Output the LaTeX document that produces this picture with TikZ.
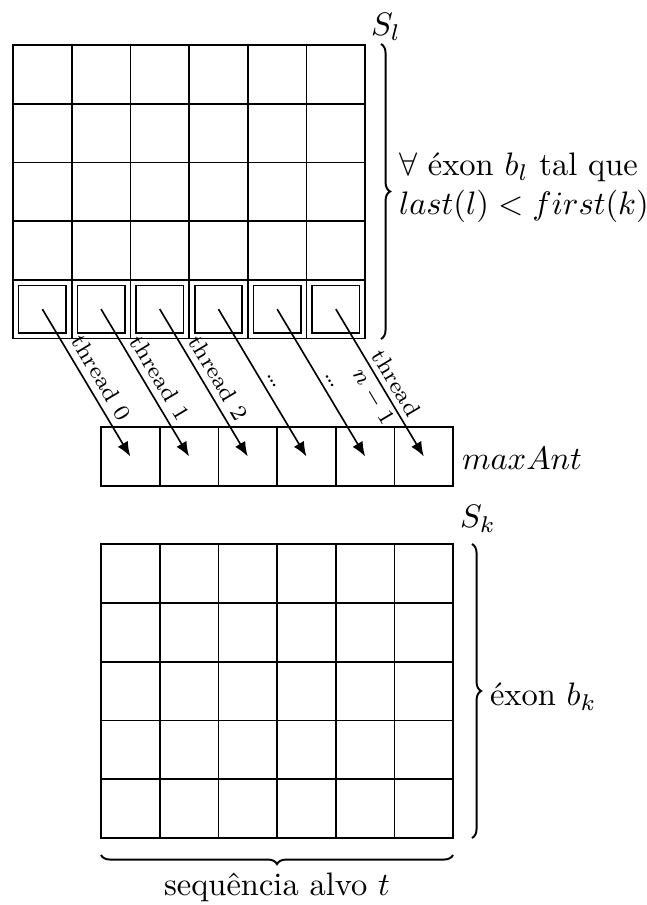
\documentclass[tikz,border=0pt]{standalone}
\usetikzlibrary{arrows.meta,decorations.pathreplacing}
\begin{document}
\begin{tikzpicture}[x=0.3077pt,y=-0.3077pt,
  cell/.style={draw,line width=0.5pt,minimum size=18.06pt,inner sep=0pt,outer sep=0pt},
  innerbox/.style={draw,line width=0.5pt,minimum size=14.6pt,inner sep=0pt,outer sep=0pt},
  arr/.style={-{Latex[length=4.5pt,width=3.6pt]},line width=0.5pt},
  lbl/.style={font=\fontsize{7}{8}\selectfont,sloped,above,pos=0.52,inner sep=2pt},
  lblc/.style={font=\fontsize{7}{8}\selectfont,sloped,pos=0.55,inner sep=0pt,align=center},
  brc/.style={decorate,decoration={brace,amplitude=2.8pt},line width=0.6pt},
  txt/.style={inner sep=0pt,outer sep=0pt}]
\useasboundingbox (0,0) rectangle (647,905);
\foreach \r in {0,...,4} \foreach \c in {0,...,5} {
  \node[cell] (t\r\c) at ({42.35+58.7*\c},{74.35+58.7*\r}) {};
  \node[cell] (b\r\c) at ({130.35+58.7*\c},{573.65+58.7*\r}) {};
}
\foreach \c in {0,...,5} {
  \node[innerbox] (i\c) at (t4\c) {};
  \node[cell] (m\c) at ({130.35+58.7*\c},456.5) {};
}
\draw[arr] (i0.center) -- node[lbl]{thread 0} (m0.center);
\draw[arr] (i1.center) -- node[lbl]{thread 1} (m1.center);
\draw[arr] (i2.center) -- node[lbl]{thread 2} (m2.center);
\draw[arr] (i3.center) -- node[lbl]{\ldots} (m3.center);
\draw[arr] (i4.center) -- node[lbl]{\ldots} (m4.center);
\draw[arr] (i5.center) -- node[lblc]{thread\\$n-1$} (m5.center);
% braces
\draw[brc] (381,44) -- (381,339);
\draw[brc] (472,544) -- (472,838);
\draw[brc] (453,855) -- (101,855);
% labels
\node[txt] (sl) at (386,27) {$S_l$};
\node[txt] (sk) at (478,519) {$S_k$};
\node[txt,anchor=west,align=left] (cond) at (399,188) {$\forall$ éxon $b_l$ tal que\\$last(l) < first(k)$};
\node[txt,anchor=west] (max) at (462,458) {$maxAnt$};
\node[txt,anchor=west] (exk) at (490,697) {éxon $b_k$};
\node[txt] (seq) at (277,887) {sequência alvo $t$};
\end{tikzpicture}
\end{document}
